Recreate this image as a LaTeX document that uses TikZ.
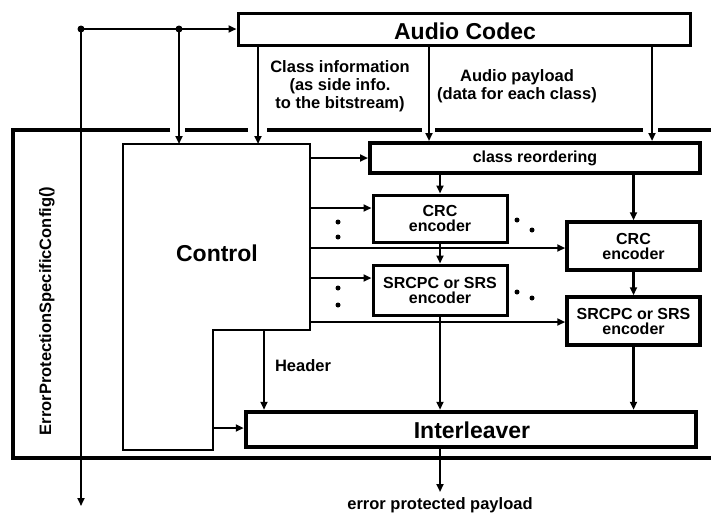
\documentclass[tikz,border=0pt]{standalone}
\usepackage{fontspec}
\setmainfont{Liberation Sans}
\usetikzlibrary{arrows.meta,calc}
\begin{document}
\begin{tikzpicture}[x=1pt,y=-1pt,
  line width=2.6pt,
  arr/.style={-{Triangle[length=8pt,width=7pt]}},
  box/.style={draw,rectangle,line width=3pt,inner sep=0pt,align=center,font=\fontsize{16}{17}\selectfont\bfseries},
  bigtxt/.style={font=\fontsize{23}{25}\selectfont\bfseries},
  smalltxt/.style={font=\fontsize{16.5}{18}\selectfont\bfseries,align=center,inner sep=0pt},
  dotmark/.style={circle,fill,inner sep=0pt,minimum size=5pt},
  junction/.style={circle,fill,inner sep=0pt,minimum size=7pt},
  area/.style={draw=none,inner sep=0pt,outer sep=0pt}]
\useasboundingbox (0,0) rectangle (711,515);

% outer frame (with gaps where arrows enter)
\draw[line width=4pt] (170,130) -- (13,130) -- (13,458) -- (711,458);
\draw[line width=4pt] (185,130) -- (248,130);
\draw[line width=4pt] (267,130) -- (422,130);
\draw[line width=4pt] (435,130) -- (643,130);
\draw[line width=4pt] (658,130) -- (711,130);

\node[smalltxt,rotate=90] (epsc) at (47,311) {ErrorProtectionSpecificConfig()};

% nodes
\node[box,line width=3pt,minimum width=452pt,minimum height=32pt] (codec) at (464,29) {};
\node[bigtxt] (codect) at (465,31) {Audio Codec};

\node[area,minimum width=187pt,minimum height=186pt] (ctrl) at (216.5,237) {};
\node[area,minimum width=90pt,minimum height=120pt] (ctrlb) at (168,390) {};
\draw[line width=2.6pt] (ctrl.north west) -- (ctrl.north east) -- (ctrl.south east) -- (ctrlb.north east) -- (ctrlb.south east) -- (ctrlb.south west) -- cycle;
\node[bigtxt] (ctrlt) at (217,253) {Control};

\node[box,line width=4pt,minimum width=330pt,minimum height=30pt] (reorder) at (535,158) {class reordering};
\node[box,minimum width=134pt,minimum height=47pt] (crc1) at (440,218.5) {CRC\\[-2pt]encoder};
\node[box,minimum width=134pt,minimum height=50pt] (src1) at (440,290) {SRCPC or SRS\\[-2pt]encoder};
\node[box,line width=3.5pt,minimum width=133pt,minimum height=48pt] (crc2) at (633.5,246) {CRC\\[-2pt]encoder};
\node[box,line width=3.5pt,minimum width=133pt,minimum height=48pt] (src2) at (633.5,321) {SRCPC or SRS\\[-2pt]encoder};
\node[box,line width=4.5pt,minimum width=450pt,minimum height=35pt] (inter) at (471,429.5) {};
\node[bigtxt] (intert) at (472,430) {Interleaver};

% labels
\node[smalltxt] (classinfo) at (340,86) {Class information\\(as side info.\\to the bitstream)};
\node[smalltxt] (payload) at (517,86) {Audio payload\\(data for each class)};
\node[smalltxt] (header) at (303,366) {Header};
\node[smalltxt] (epp) at (440,505) {error protected payload};

% junctions
\node[junction] (j1) at (81,29) {};
\node[junction] (j2) at (179,29) {};
\coordinate (out) at (81,506);
\coordinate (eppc) at (440,492);

% connectors
\draw[arr] (j1.center) -- (codec.west);
\draw[arr] (j1.center) -- (out);
\draw[arr] (j2.center) -- (ctrl.north -| j2);
\draw[arr] (codec.south -| 258,0) -- (ctrl.north -| 258,0);
\draw[arr] (codec.south -| 429,0) -- (reorder.north -| 429,0);
\draw[arr] (codec.south -| 652,0) -- (reorder.north -| 652,0);

\draw[arr] (ctrl.east |- 0,158) -- (reorder.west);
\draw[arr] (ctrl.east |- 0,208) -- (crc1.west |- 0,208);
\draw[arr] (ctrl.east |- 0,248) -- (crc2.west |- 0,248);
\draw[arr] (ctrl.east |- 0,278) -- (src1.west |- 0,278);
\draw[arr] (ctrl.east |- 0,322) -- (src2.west |- 0,322);

\draw[arr] (reorder.south -| crc1.north) -- (crc1.north);
\draw[arr] (reorder.south -| crc2.north) -- (crc2.north);
\draw[arr] (crc1.south) -- (src1.north);
\draw[arr] (crc2.south) -- (src2.north);
\draw[arr] (src1.south) -- (inter.north -| src1.south);
\draw[arr] (src2.south) -- (inter.north -| src2.south);

\draw[arr] (ctrl.south -| 264,0) -- (inter.north -| 264,0);
\draw[arr] (ctrlb.east |- 0,428) -- (inter.west |- 0,428);
\draw[arr] (inter.south -| eppc) -- (eppc);

% dots
\node[dotmark] (d1) at (338,222) {};
\node[dotmark] (d2) at (338,237) {};
\node[dotmark] (d3) at (338,288) {};
\node[dotmark] (d4) at (338,305) {};
\node[dotmark] (d5) at (517,220) {};
\node[dotmark] (d6) at (532,230) {};
\node[dotmark] (d7) at (517,292) {};
\node[dotmark] (d8) at (532,298) {};
\end{tikzpicture}
\end{document}
